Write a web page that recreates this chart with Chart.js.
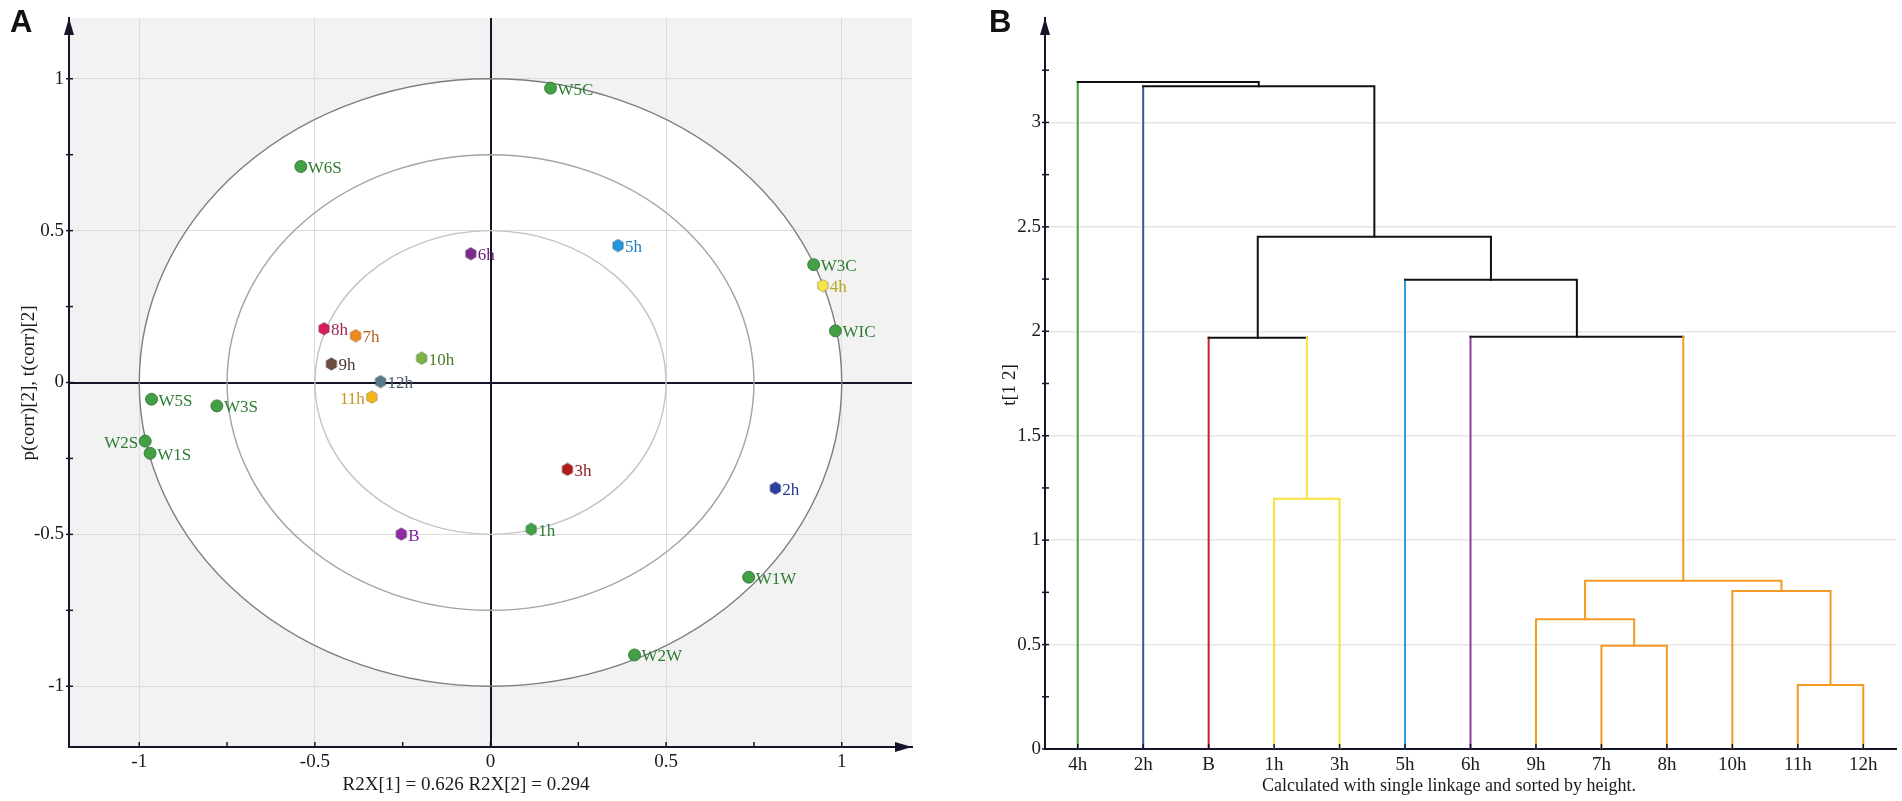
<!DOCTYPE html>
<html>
<head>
<meta charset="utf-8">
<title>Loading plot and dendrogram</title>
<script src="https://cdn.jsdelivr.net/npm/chart.js@4.4.0/dist/chart.umd.min.js"></script>
<style>
  html, body { margin: 0; padding: 0; background: #fff; }
  #wrap { position: relative; width: 1902px; height: 801px; overflow: hidden; }
  canvas { position: absolute; top: 0; }
  #loadingPlot { left: 0; }
  #dendroPlot { left: 940px; }
</style>
</head>
<body>
<div id="wrap">
  <canvas id="loadingPlot" width="935" height="801"></canvas>
  <canvas id="dendroPlot" width="962" height="801"></canvas>
</div>
<script>
// ---- panel A: loading / score points ----
const wLabels = ['W5C', 'W6S', 'W3C', 'WIC', 'W5S', 'W3S', 'W2S', 'W1S', 'W1W', 'W2W'];
const wX = [0.171, -0.540, 0.920, 0.982, -0.965, -0.779, -0.983, -0.969, 0.735, 0.410];
const wY = [0.969, 0.711, 0.388, 0.170, -0.055, -0.077, -0.193, -0.233, -0.641, -0.897];

const hLabels = ['B', '1h', '2h', '3h', '4h', '5h', '6h', '7h', '8h', '9h', '10h', '11h', '12h'];
const hX = [-0.254, 0.116, 0.811, 0.219, 0.946, 0.363, -0.056, -0.384, -0.474, -0.453, -0.196, -0.338, -0.313];
const hY = [-0.499, -0.483, -0.348, -0.286, 0.319, 0.451, 0.424, 0.154, 0.177, 0.061, 0.080, -0.048, 0.003];
const hColors = ['#8e2aa6', '#43a047', '#2b3f9e', '#b01c1c', '#f7e34a', '#2396dc', '#7b2d8e',
                 '#f08a1c', '#d81b5a', '#6d4c41', '#7cb342', '#f5b71a', '#5a7a8c'];
const hTextColors = ['#7b1fa2', '#2e7d32', '#283593', '#8b1a1a', '#b8a81c', '#1f7cc0', '#6a1b7a',
                     '#b0641e', '#a3264f', '#4e342e', '#4d7a24', '#c8961e', '#455a64'];
const leftSideLabels = ['W2S', '11h'];

const axisTicks = [-1, -0.75, -0.5, -0.25, 0, 0.25, 0.5, 0.75, 1];
const axisTickLabels = ['-1', '', '-0.5', '', '0', '', '0.5', '', '1'];
const circleRadii = [1, 0.75, 0.5];
const circleColors = ['#7d7d7d', '#a3a3a3', '#c4c4c4'];

// ---- panel B: dendrogram ----
const leaves = ['4h', '2h', 'B', '1h', '3h', '5h', '6h', '9h', '7h', '8h', '10h', '11h', '12h'];
const leafColors = ['#3aa83a', '#3f4fa8', '#c0262b', '#f7e43a', '#f7e43a', '#2a9fd8', '#8e3a9e',
                    '#f39a24', '#f39a24', '#f39a24', '#f39a24', '#f39a24', '#f39a24'];
const mergeLeft = [11, 8, 7, 10, 15, 3, 2, 6, 5, 19, 1, 0];
const mergeRight = [12, 9, 14, 13, 16, 4, 18, 17, 20, 21, 22, 23];
const mergeHeights = [0.307, 0.494, 0.621, 0.757, 0.805, 1.198, 1.969, 1.974, 2.247, 2.453, 3.173, 3.193];
const mergeColors = ['#f39a24', '#f39a24', '#f39a24', '#f39a24', '#f39a24', '#f7e43a',
                     '#111111', '#111111', '#111111', '#111111', '#111111', '#111111'];
const heightTicks = [0, 0.25, 0.5, 0.75, 1, 1.25, 1.5, 1.75, 2, 2.25, 2.5, 2.75, 3, 3.25];
const heightTickLabels = ['0', '', '0.5', '', '1', '', '1.5', '', '2', '', '2.5', '', '3', ''];

const SERIF = '"Liberation Serif", "Times New Roman", serif';
const AXIS = '#14142b';

function hexagon(color) {
    const c = document.createElement('canvas');
    c.width = 14; c.height = 14;
    const g = c.getContext('2d');
    g.beginPath();
    for (let i = 0; i < 6; i++) {
        const a = Math.PI / 3 * i - Math.PI / 2;
        const px = 7 + 6 * Math.cos(a), py = 7 + 6.3 * Math.sin(a);
        if (i === 0) g.moveTo(px, py); else g.lineTo(px, py);
    }
    g.closePath();
    g.fillStyle = color;
    g.fill();
    g.strokeStyle = 'rgba(0,0,0,0.35)';
    g.lineWidth = 0.8;
    g.stroke();
    return c;
}

// Text labels, arrows and inward tick marks shared by both panels
const panelText = {
    id: 'panelText',
    afterDraw(chart, args, opts) {
        const ctx = chart.ctx;
        (opts.items || []).forEach(t => {
            ctx.save();
            ctx.font = t.font;
            ctx.fillStyle = t.color || '#1a1a1a';
            ctx.textAlign = t.align || 'center';
            ctx.textBaseline = t.baseline || 'middle';
            ctx.translate(t.x, t.y);
            if (t.rotate) ctx.rotate(t.rotate);
            ctx.fillText(t.text, 0, 0);
            ctx.restore();
        });
    }
};

const axisDecor = {
    id: 'axisDecor',
    afterDraw(chart, args, opts) {
        const ctx = chart.ctx, a = chart.chartArea;
        ctx.save();
        ctx.fillStyle = AXIS;
        ctx.strokeStyle = AXIS;
        // arrow on top of the y axis
        ctx.beginPath();
        ctx.moveTo(a.left, a.top);
        ctx.lineTo(a.left - 5, a.top + 17);
        ctx.lineTo(a.left + 5, a.top + 17);
        ctx.closePath();
        ctx.fill();
        if (opts.xArrow) {
            ctx.beginPath();
            ctx.moveTo(a.right, a.bottom);
            ctx.lineTo(a.right - 17, a.bottom - 5);
            ctx.lineTo(a.right - 17, a.bottom + 5);
            ctx.closePath();
            ctx.fill();
        }
        // short tick marks pointing into the plot
        ctx.lineWidth = 1.5;
        const x = chart.scales.x, y = chart.scales.y;
        x.ticks.forEach(t => {
            const px = x.getPixelForValue(t.value);
            ctx.beginPath(); ctx.moveTo(px, a.bottom); ctx.lineTo(px, a.bottom - 5); ctx.stroke();
        });
        y.ticks.forEach(t => {
            const py = y.getPixelForValue(t.value);
            ctx.beginPath(); ctx.moveTo(a.left - 3, py); ctx.lineTo(a.left + 4, py); ctx.stroke();
        });
        ctx.restore();
    }
};

// ---- panel A chart ----
const circleBackdrop = {
    id: 'circleBackdrop',
    beforeDraw(chart) {
        const {ctx, chartArea: a, scales: {x, y}} = chart;
        const cx = x.getPixelForValue(0), cy = y.getPixelForValue(0);
        const rx = x.getPixelForValue(circleRadii[0]) - cx;
        const ry = cy - y.getPixelForValue(circleRadii[0]);
        ctx.save();
        ctx.fillStyle = '#f2f2f2';
        ctx.fillRect(a.left, a.top, a.right - a.left, a.bottom - a.top);
        ctx.fillStyle = '#ffffff';
        ctx.beginPath();
        ctx.ellipse(cx, cy, rx, ry, 0, 0, 2 * Math.PI);
        ctx.fill();
        ctx.restore();
    },
    beforeDatasetsDraw(chart) {
        const {ctx, scales: {x, y}} = chart;
        const cx = x.getPixelForValue(0), cy = y.getPixelForValue(0);
        ctx.save();
        circleRadii.forEach((r, i) => {
            ctx.strokeStyle = circleColors[i];
            ctx.lineWidth = 1.4;
            ctx.beginPath();
            ctx.ellipse(cx, cy, x.getPixelForValue(r) - cx, cy - y.getPixelForValue(r), 0, 0, 2 * Math.PI);
            ctx.stroke();
        });
        ctx.restore();
    }
};

const pointLabels = {
    id: 'pointLabels',
    afterDatasetsDraw(chart) {
        const ctx = chart.ctx;
        ctx.save();
        ctx.font = '17px ' + SERIF;
        ctx.textBaseline = 'middle';
        chart.data.datasets.forEach((ds, di) => {
            const meta = chart.getDatasetMeta(di);
            meta.data.forEach((el, i) => {
                const name = ds.names[i];
                const left = leftSideLabels.includes(name);
                ctx.fillStyle = ds.textColors[i];
                ctx.textAlign = left ? 'right' : 'left';
                ctx.fillText(name, el.x + (left ? -7 : 7), el.y + 2);
            });
        });
        ctx.restore();
    }
};

function gridColor(c, light) {
    if (!c.tick) return 'rgba(0,0,0,0)';
    if (c.tick.value === 0) return AXIS;
    return c.index % 2 === 0 ? light : 'rgba(0,0,0,0)';
}

new Chart(document.getElementById('loadingPlot'), {
    type: 'scatter',
    data: {
        datasets: [{
            data: wX.map((v, i) => ({x: v, y: wY[i]})),
            names: wLabels,
            textColors: wLabels.map(() => '#2e7d32'),
            pointStyle: 'circle',
            pointRadius: 6,
            backgroundColor: '#43a047',
            borderColor: '#2e6b30',
            borderWidth: 0.8
        }, {
            data: hX.map((v, i) => ({x: v, y: hY[i]})),
            names: hLabels,
            textColors: hTextColors,
            pointStyle: hColors.map(hexagon),
            pointRadius: 6
        }]
    },
    options: {
        responsive: false,
        devicePixelRatio: 1,
        animation: false,
        events: [],
        layout: { padding: { left: 0, right: 23, top: 18, bottom: 0 } },
        plugins: {
            legend: { display: false },
            tooltip: { enabled: false },
            axisDecor: { xArrow: true },
            panelText: {
                items: [
                    { text: 'A', x: 10, y: 32, align: 'left', baseline: 'alphabetic',
                      font: 'bold 31px "Liberation Sans", Arial, sans-serif', color: '#111' },
                    { text: 'p(corr)[2], t(corr)[2]', x: 29, y: 383, rotate: -Math.PI / 2,
                      font: '19px ' + SERIF },
                    { text: 'R2X[1] = 0.626 R2X[2] = 0.294', x: 466, y: 785, font: '19px ' + SERIF }
                ]
            }
        },
        scales: {
            x: {
                type: 'linear', min: -1.2, max: 1.2,
                afterBuildTicks: s => { s.ticks = axisTicks.map(v => ({value: v})); },
                afterFit: s => { s.height = 54; },
                grid: {
                    drawTicks: false,
                    color: c => gridColor(c, '#dcdcdc'),
                    lineWidth: c => (c.tick && c.tick.value === 0 ? 2 : 1)
                },
                border: { color: AXIS, width: 2 },
                ticks: {
                    padding: 4, maxRotation: 0, autoSkip: false,
                    color: '#1a1a1a', font: { family: SERIF, size: 19 },
                    callback: (v, i) => axisTickLabels[i]
                }
            },
            y: {
                type: 'linear', min: -1.2, max: 1.2,
                afterBuildTicks: s => { s.ticks = axisTicks.map(v => ({value: v})); },
                afterFit: s => { s.width = 69; },
                grid: {
                    drawTicks: false,
                    color: c => gridColor(c, '#dcdcdc'),
                    lineWidth: c => (c.tick && c.tick.value === 0 ? 2 : 1)
                },
                border: { color: AXIS, width: 2 },
                ticks: {
                    padding: 5, autoSkip: false,
                    color: '#1a1a1a', font: { family: SERIF, size: 19 },
                    callback: (v, i) => axisTickLabels[i]
                }
            }
        }
    },
    plugins: [circleBackdrop, pointLabels, axisDecor, panelText]
});

// ---- panel B chart ----
const nodeX = leaves.map((_, i) => i);
const nodeH = leaves.map(() => 0);
const nodeColor = leafColors.slice();
mergeHeights.forEach((h, k) => {
    nodeX.push((nodeX[mergeLeft[k]] + nodeX[mergeRight[k]]) / 2);
    nodeH.push(h);
    nodeColor.push(mergeColors[k]);
});

const links = mergeHeights.map((h, k) => {
    const a = mergeLeft[k], b = mergeRight[k];
    const legColors = [nodeColor[a], mergeColors[k], nodeColor[b]];
    return {
        data: [
            {x: nodeX[a], y: nodeH[a]}, {x: nodeX[a], y: h},
            {x: nodeX[b], y: h}, {x: nodeX[b], y: nodeH[b]}
        ],
        borderColor: mergeColors[k],
        borderWidth: 2,
        borderCapStyle: 'square',
        pointRadius: 0,
        tension: 0,
        fill: false,
        segment: { borderColor: c => legColors[c.p0DataIndex] }
    };
});

new Chart(document.getElementById('dendroPlot'), {
    type: 'line',
    data: { datasets: links },
    options: {
        responsive: false,
        devicePixelRatio: 1,
        animation: false,
        events: [],
        layout: { padding: { left: 0, right: 6, top: 18, bottom: 0 } },
        plugins: {
            legend: { display: false },
            tooltip: { enabled: false },
            axisDecor: { xArrow: false },
            panelText: {
                items: [
                    { text: 'B', x: 49, y: 32, align: 'left', baseline: 'alphabetic',
                      font: 'bold 31px "Liberation Sans", Arial, sans-serif', color: '#111' },
                    { text: 't[1 2]', x: 70, y: 385, rotate: -Math.PI / 2, font: '19px ' + SERIF },
                    { text: 'Calculated with single linkage and sorted by height.', x: 509, y: 786,
                      font: '18px ' + SERIF }
                ]
            }
        },
        scales: {
            x: {
                type: 'linear', min: -0.5, max: 12.5,
                afterBuildTicks: s => { s.ticks = leaves.map((_, i) => ({value: i})); },
                afterFit: s => { s.height = 52; },
                grid: { drawTicks: false, drawOnChartArea: false },
                border: { color: AXIS, width: 2 },
                ticks: {
                    padding: 5, maxRotation: 0, autoSkip: false,
                    color: '#1a1a1a', font: { family: SERIF, size: 19 },
                    callback: (v, i) => leaves[i]
                }
            },
            y: {
                type: 'linear', min: 0, max: 3.5,
                afterBuildTicks: s => { s.ticks = heightTicks.map(v => ({value: v})); },
                afterFit: s => { s.width = 105; },
                grid: {
                    drawTicks: false,
                    color: c => (c.tick && c.tick.value !== 0 && c.index % 2 === 0 ? '#e6e6e6' : 'rgba(0,0,0,0)'),
                    lineWidth: 1.5
                },
                border: { color: AXIS, width: 2 },
                ticks: {
                    padding: 4, autoSkip: false,
                    color: '#1a1a1a', font: { family: SERIF, size: 19 },
                    callback: (v, i) => heightTickLabels[i]
                }
            }
        }
    },
    plugins: [axisDecor, panelText]
});
</script>
</body>
</html>
